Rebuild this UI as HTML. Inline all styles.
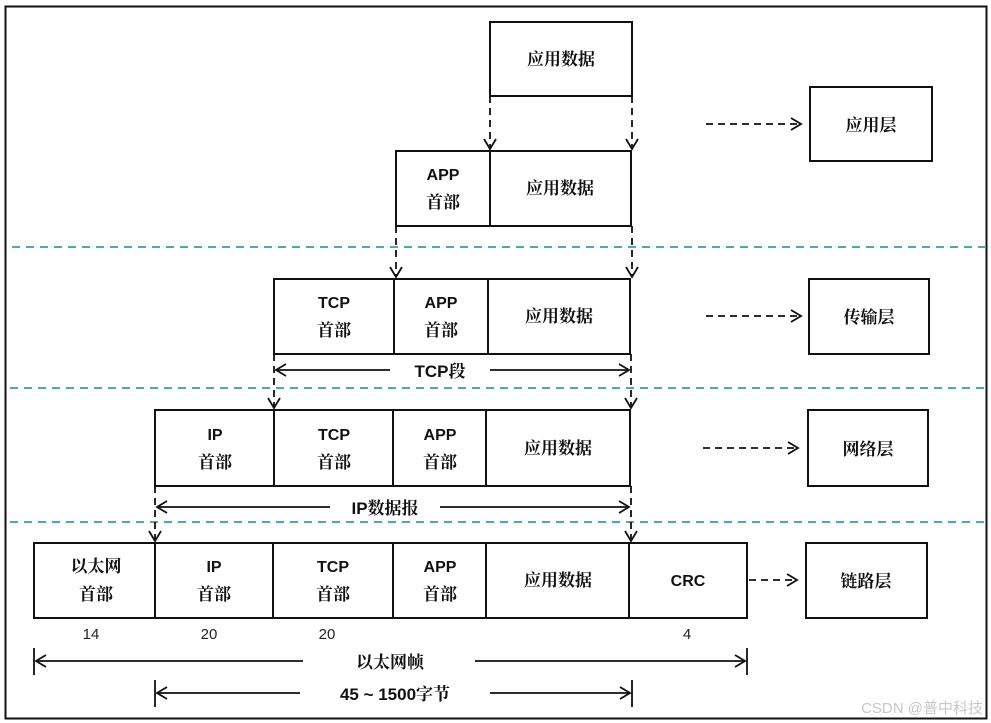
<!DOCTYPE html>
<html><head><meta charset="utf-8"><style>
html,body{margin:0;padding:0;background:#fff;}
svg{display:block;}
.t{font-family:"Liberation Sans","Noto Serif CJK SC",serif;font-weight:bold;font-size:17px;fill:#111;}
.e{font-family:"Liberation Sans","Noto Sans CJK SC",sans-serif;font-weight:bold;font-size:16px;fill:#111;}
.n{font-family:"Liberation Sans",sans-serif;font-size:15px;fill:#222;}
</style></head><body>
<svg width="991" height="723" viewBox="0 0 991 723" xmlns="http://www.w3.org/2000/svg">
<defs>
<marker id="a" markerWidth="14" markerHeight="14" refX="12" refY="7" orient="auto" markerUnits="userSpaceOnUse">
<polyline points="2,1 12,7 2,13" fill="none" stroke="#111" stroke-width="1.8"/>
</marker>
</defs>
<rect x="5.5" y="6.5" width="981" height="712" fill="#fff" stroke="#111" stroke-width="2"/>
<!-- blue dashed separators -->
<g stroke="#4aa8b8" stroke-width="2" stroke-dasharray="8,6">
<line x1="12" y1="247" x2="987" y2="247"/>
<line x1="10" y1="388" x2="987" y2="388"/>
<line x1="10" y1="522" x2="987" y2="522"/>
</g>
<g fill="#fff" stroke="#111" stroke-width="2">
<rect x="490" y="22" width="142" height="74"/>
<rect x="396" y="151" width="94" height="75"/><rect x="490" y="151" width="141" height="75"/>
<rect x="274" y="279" width="120" height="75"/><rect x="394" y="279" width="94" height="75"/><rect x="488" y="279" width="142" height="75"/>
<rect x="155" y="410" width="119" height="76"/><rect x="274" y="410" width="119" height="76"/><rect x="393" y="410" width="93" height="76"/><rect x="486" y="410" width="144" height="76"/>
<rect x="34" y="543" width="121" height="75"/><rect x="155" y="543" width="118" height="75"/><rect x="273" y="543" width="120" height="75"/><rect x="393" y="543" width="93" height="75"/><rect x="486" y="543" width="143" height="75"/><rect x="629" y="543" width="118" height="75"/>
<rect x="810" y="87" width="122" height="74"/>
<rect x="809" y="279" width="120" height="75"/>
<rect x="808" y="410" width="120" height="76"/>
<rect x="806" y="543" width="121" height="75"/>
</g>
<!-- dashed down arrows -->
<g stroke="#111" stroke-width="1.8" stroke-dasharray="7,5" fill="none">
<line x1="490" y1="96" x2="490" y2="149" marker-end="url(#a)"/>
<line x1="632" y1="96" x2="632" y2="149" marker-end="url(#a)"/>
<line x1="396" y1="226" x2="396" y2="277" marker-end="url(#a)"/>
<line x1="632" y1="226" x2="632" y2="277" marker-end="url(#a)"/>
<line x1="274" y1="354" x2="274" y2="408" marker-end="url(#a)"/>
<line x1="631" y1="354" x2="631" y2="408" marker-end="url(#a)"/>
<line x1="155" y1="486" x2="155" y2="541" marker-end="url(#a)"/>
<line x1="631" y1="486" x2="631" y2="541" marker-end="url(#a)"/>
<line x1="706" y1="124" x2="801" y2="124" marker-end="url(#a)"/>
<line x1="706" y1="316" x2="801" y2="316" marker-end="url(#a)"/>
<line x1="703" y1="448" x2="798" y2="448" marker-end="url(#a)"/>
<line x1="749" y1="580" x2="797" y2="580" marker-end="url(#a)"/>
</g>
<!-- span arrows -->
<g stroke="#111" stroke-width="1.8" fill="none">
<line x1="390" y1="370" x2="276" y2="370" marker-end="url(#a)"/>
<line x1="490" y1="370" x2="629" y2="370" marker-end="url(#a)"/>
<line x1="330" y1="507" x2="157" y2="507" marker-end="url(#a)"/>
<line x1="440" y1="507" x2="629" y2="507" marker-end="url(#a)"/>
<line x1="34" y1="648" x2="34" y2="675"/><line x1="747" y1="648" x2="747" y2="675"/>
<line x1="303" y1="661" x2="36" y2="661" marker-end="url(#a)"/>
<line x1="475" y1="661" x2="745" y2="661" marker-end="url(#a)"/>
<line x1="155" y1="680" x2="155" y2="707"/><line x1="632" y1="680" x2="632" y2="707"/>
<line x1="300" y1="693" x2="157" y2="693" marker-end="url(#a)"/>
<line x1="490" y1="693" x2="630" y2="693" marker-end="url(#a)"/>
</g>
<g text-anchor="middle">
<text class="t" x="561" y="65">应用数据</text>
<text class="e" x="443" y="180">APP</text><text class="t" x="443" y="208">首部</text>
<text class="t" x="560" y="194">应用数据</text>
<text class="e" x="334" y="308">TCP</text><text class="t" x="334" y="336">首部</text>
<text class="e" x="441" y="308">APP</text><text class="t" x="441" y="336">首部</text>
<text class="t" x="559" y="322">应用数据</text>
<text class="t" x="440" y="377">TCP段</text>
<text class="e" x="215" y="440">IP</text><text class="t" x="215" y="468">首部</text>
<text class="e" x="334" y="440">TCP</text><text class="t" x="334" y="468">首部</text>
<text class="e" x="440" y="440">APP</text><text class="t" x="440" y="468">首部</text>
<text class="t" x="558" y="454">应用数据</text>
<text class="t" x="385" y="514">IP数据报</text>
<text class="t" x="96" y="572">以太网</text><text class="t" x="96" y="600">首部</text>
<text class="e" x="214" y="572">IP</text><text class="t" x="214" y="600">首部</text>
<text class="e" x="333" y="572">TCP</text><text class="t" x="333" y="600">首部</text>
<text class="e" x="440" y="572">APP</text><text class="t" x="440" y="600">首部</text>
<text class="t" x="558" y="586">应用数据</text>
<text class="e" x="688" y="586">CRC</text>
<text class="t" x="871" y="131">应用层</text>
<text class="t" x="869" y="323">传输层</text>
<text class="t" x="868" y="455">网络层</text>
<text class="t" x="866" y="587">链路层</text>
<text class="n" x="91" y="639">14</text>
<text class="n" x="209" y="639">20</text>
<text class="n" x="327" y="639">20</text>
<text class="n" x="687" y="639">4</text>
<text class="t" x="390" y="668">以太网帧</text>
<text class="t" x="395" y="700">45 ~ 1500字节</text>
</g>
<text x="983" y="713" text-anchor="end" font-family="Liberation Sans,'Noto Sans CJK SC',sans-serif" font-size="15" fill="#c8c8c8">CSDN @普中科技</text>
</svg>
</body></html>
